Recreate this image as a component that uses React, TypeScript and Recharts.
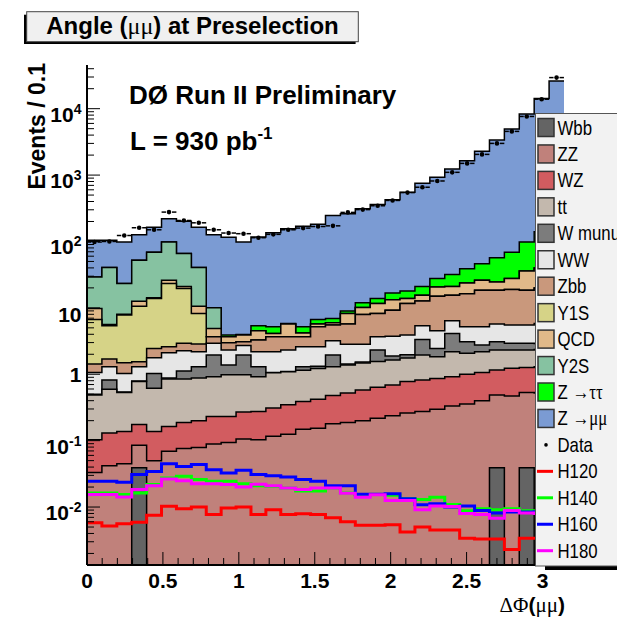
import React from 'react';
import { ComposedChart, Area, Line, Scatter, XAxis, YAxis } from 'recharts';

// ---------- binning / ranges ----------
const BIN_COUNT = 32;
const X_MAX = Math.PI;
const BIN_WIDTH = X_MAX / BIN_COUNT;
const Y_MIN = 0.00134;
const Y_MAX = 45500;
const FLOOR = 1e-6;

// ---------- stacked backgrounds (events per bin), bottom of stack first ----------
const wbb = [0, 0, 0, 0.039, 0, 0, 0, 0, 0, 0, 0, 0, 0, 0, 0, 0, 0, 0, 0, 0, 0, 0, 0, 0, 0, 0, 0, 0.039, 0, 0.039, 0, 0];
const zz = [0.033, 0.042, 0.045, 0.046, 0.05, 0.069, 0.076, 0.079, 0.089, 0.094, 0.106, 0.103, 0.116, 0.125, 0.149, 0.154, 0.18, 0.188, 0.2, 0.218, 0.237, 0.26, 0.275, 0.296, 0.334, 0.358, 0.4, 0.45, 0.47, 0.49, 0.52, 0.56];
const wz = [0.07, 0.088, 0.092, 0.09, 0.087, 0.094, 0.112, 0.121, 0.142, 0.137, 0.164, 0.172, 0.194, 0.221, 0.239, 0.266, 0.297, 0.332, 0.38, 0.422, 0.453, 0.515, 0.545, 0.564, 0.586, 0.642, 0.66, 0.67, 0.76, 0.73, 0.78, 0.82];
const ttbar = [0.386, 0.465, 0.393, 0.6, 0.48, 0.687, 0.662, 0.68, 0.689, 0.749, 0.71, 0.645, 0.74, 0.744, 0.762, 0.8, 0.823, 0.86, 0.9, 0.91, 0.95, 0.985, 1.13, 0.98, 1.26, 1.07, 1.12, 1.16, 1.09, 1.06, 1.05, 1.07];
const wmunu = [0.01, 0.225, 0.01, 0.02, 0.413, 0.03, 0.27, 0.42, 1.03, 0.4, 0.97, 0.38, 0.01, 0.01, 0.15, 0.1, 0.65, 0.05, 0.05, 0.77, 0.25, 0.2, 1.4, 0.61, 1.94, 1.02, 0.57, 0.77, 0.6, 0.6, 0.55, 0.5];
const ww = [0.56, 0.48, 0.49, 0.5, 0.75, 1.23, 1.14, 0.88, 0.97, 0.94, 0.75, 0.88, 1.12, 1.22, 1.3, 1.28, 1.24, 1.39, 1.29, 1.35, 1.86, 1.94, 2.02, 2.07, 2.28, 2.09, 2.43, 2.61, 2.58, 2.58, 2.9, 3.05];
const zbb = [0.37, 0.4, 0.46, 0.25, 0.67, 0.49, 0.66, 0.67, 0.75, 0.66, 0.4, 1.09, 1.49, 1.35, 1.07, 2.58, 2.31, 2.88, 5.14, 4.53, 5.45, 7.7, 7.33, 10.48, 9.1, 11.2, 13.2, 12.7, 13.4, 12.9, 14.2, 15];
const y1s = [5.27, 3.7, 6.29, 9.05, 11.35, 20.6, 16.6, 5.35, 0, 0, 0, 0, 0, 0, 0, 0, 0, 0, 0, 0, 0, 0, 0, 0, 0, 0, 0, 0, 0, 0, 0, 0];
const qcd = [3.1, 0.2, 0.22, 2.0, 0.4, 2.8, 1.5, 2.4, 1.23, 0.69, 0.8, 1.25, 0.45, 2.03, 0.53, 0.52, 0.45, 2.5, 2.14, 3.4, 4.1, 2.2, 2.8, 5.7, 5.5, 7.3, 7.6, 6.2, 8.7, 17.6, 20, 24];
const y2s = [19.4, 34.9, 15.2, 39.4, 54.8, 72, 44.6, 29.9, 5.1, 0, 0, 0, 0, 0, 0, 0, 0, 0, 0, 0, 0, 0, 0, 0, 0, 0, 0, 0, 0, 0, 0, 0];
const ztautau = [0, 0, 0, 0, 0, 0, 0, 0, 0, 0.23, 0.08, 0.85, 1.06, 0.13, 0.98, 1.0, 0.95, 0.8, 1.8, 2.2, 3.5, 4.2, 5.5, 6.9, 10.7, 15.3, 20.4, 32.4, 41.4, 62, 100, 145];
const zmumu = [74.8, 63.5, 74.8, 74, 95, 122, 136, 123, 116, 112, 94, 111, 130, 150, 165, 175, 240, 252, 299, 346, 407, 534, 732, 899, 1208, 1611, 2234, 3313, 4881, 8202, 14060, 26010];

// ---------- data ----------
const dataCounts = [98, 100, 123, 161, 150, 277, 207, 191, 150, 134, 131, 114, 128, 150, 159, 168, 172, 274, 302, 345, 415, 545, 656, 815, 1100, 1500, 2050, 3000, 4550, 7640, 13900, 29400];

// ---------- Higgs signals ----------
const h120 = [0.0058, 0.0052, 0.0056, 0.0059, 0.0075, 0.0103, 0.0094, 0.01, 0.0077, 0.0097, 0.01, 0.0077, 0.0091, 0.0077, 0.0079, 0.0077, 0.0069, 0.006, 0.0053, 0.0053, 0.0054, 0.0042, 0.005, 0.0045, 0.0045, 0.0034, 0.0033, 0.0033, 0.0023, 0.0034, 0.0034, 0.0034];
const h140 = [0.0163, 0.0163, 0.0154, 0.0163, 0.0218, 0.0274, 0.029, 0.026, 0.0244, 0.0244, 0.0225, 0.021, 0.0205, 0.0194, 0.0174, 0.0174, 0.0194, 0.0163, 0.015, 0.0155, 0.015, 0.0134, 0.013, 0.014, 0.0109, 0.0088, 0.0094, 0.0091, 0.0094, 0.0088, 0.0088, 0.009];
const h160 = [0.0244, 0.0244, 0.0236, 0.0309, 0.0343, 0.0449, 0.0409, 0.0436, 0.0366, 0.0326, 0.0357, 0.0309, 0.0297, 0.0283, 0.026, 0.0244, 0.021, 0.021, 0.0156, 0.0156, 0.0158, 0.0133, 0.0108, 0.0112, 0.01, 0.0104, 0.0089, 0.0081, 0.0084, 0.0084, 0.0085, 0.0086];
const h180 = [0.0154, 0.0154, 0.0142, 0.0184, 0.021, 0.0264, 0.0249, 0.0225, 0.0225, 0.0218, 0.02, 0.0221, 0.021, 0.0194, 0.0184, 0.0193, 0.0193, 0.0162, 0.0141, 0.0153, 0.0126, 0.0126, 0.0091, 0.0104, 0.0102, 0.008, 0.0077, 0.0068, 0.0089, 0.0081, 0.008, 0.008];

// ---------- axis ticks ----------
const X_MAJOR = [0, 0.5, 1, 1.5, 2, 2.5, 3];
const X_LABELS = ['0', '0.5', '1', '1.5', '2', '2.5', '3'];
const Y_MAJOR = [0.01, 0.1, 1, 10, 100, 1000, 10000];
const Y_LABELS: [string, string][] = [['10', '-2'], ['10', '-1'], ['1', ''], ['10', ''], ['10', '2'], ['10', '3'], ['10', '4']];

const X_TICKS = Array.from({ length: 32 }, (_, i) => i / 10);
const Y_TICKS: number[] = [];
for (let k = -3; k <= 4; k++) {
  for (let m = 1; m <= 9; m++) {
    const v = parseFloat((m * Math.pow(10, k)).toPrecision(6));
    if (v >= Y_MIN && v <= Y_MAX) Y_TICKS.push(v);
  }
}

const STACK = [
  { key: 'wbb', label: 'Wbb', color: '#646464', values: wbb },
  { key: 'zz', label: 'ZZ', color: '#c0817b', values: zz },
  { key: 'wz', label: 'WZ', color: '#d25c60', values: wz },
  { key: 'tt', label: 'tt', color: '#c3b8ad', values: ttbar },
  { key: 'wmunu', label: 'W munu', color: '#7c7c7c', values: wmunu },
  { key: 'ww', label: 'WW', color: '#e6e6e6', values: ww },
  { key: 'zbb', label: 'Zbb', color: '#c9987c', values: zbb },
  { key: 'y1s', label: 'Y1S', color: '#d6d387', values: y1s },
  { key: 'qcd', label: 'QCD', color: '#e1b989', values: qcd },
  { key: 'y2s', label: 'Y2S', color: '#86c2a1', values: y2s },
  { key: 'ztt', label: 'Z \u2192\u03c4\u03c4', color: '#00ff00', values: ztautau },
  { key: 'zmm', label: 'Z \u2192\u03bc\u03bc', color: '#7b9bd3', values: zmumu },
];

const HIGGS = [
  { key: 'h120', label: 'H120', color: '#ff0000', values: h120 },
  { key: 'h140', label: 'H140', color: '#00ff00', values: h140 },
  { key: 'h160', label: 'H160', color: '#0000ff', values: h160 },
  { key: 'h180', label: 'H180', color: '#ff00ff', values: h180 },
];

const rows = Array.from({ length: BIN_COUNT + 1 }, (_, i) => {
  const b = Math.min(i, BIN_COUNT - 1);
  const row: Record<string, number> = { x: i * BIN_WIDTH };
  let sum = 0;
  STACK.forEach((s) => {
    sum += s.values[b];
    row[s.key] = sum > 0 ? sum : FLOOR;
  });
  HIGGS.forEach((h) => {
    row[h.key] = h.values[b];
  });
  return row;
});

const points = dataCounts.map((v, i) => ({ x: (i + 0.5) * BIN_WIDTH, y: v }));

const SANS = "'Liberation Sans', Arial, Helvetica, sans-serif";
const SERIF = "'Liberation Serif', 'Times New Roman', serif";

const XTick = (props: any) => {
  const { x, y, payload } = props;
  const v = payload.value as number;
  const idx = X_MAJOR.findIndex((m) => Math.abs(m - v) < 1e-6);
  const major = idx >= 0;
  return (
    <g>
      <line x1={x} x2={x} y1={y} y2={y - (major ? 13 : 7)} stroke="#000" strokeWidth={1} />
      {major && (
        <text x={x} y={y + 23} textAnchor="middle" fontSize={21} fontWeight="bold" fontFamily={SANS} fill="#000">
          {X_LABELS[idx]}
        </text>
      )}
    </g>
  );
};

const YTick = (props: any) => {
  const { x, y, payload } = props;
  const v = payload.value as number;
  const idx = Y_MAJOR.findIndex((m) => Math.abs(Math.log10(m) - Math.log10(v)) < 1e-6);
  const major = idx >= 0;
  let label = null;
  if (major) {
    const [base, exp] = Y_LABELS[idx];
    const baseY = exp ? y + 13 : base === '10' ? y + 14 : y + 8;
    label = (
      <text x={81.5} y={baseY} textAnchor="end" fontSize={21} fontWeight="bold" fontFamily={SANS} fill="#000">
        {base}
        {exp && (
          <tspan dy={-8} fontSize={14}>
            {exp}
          </tspan>
        )}
      </text>
    );
  }
  return (
    <g>
      <line x1={x} x2={x + (major ? 13 : 7)} y1={y} y2={y} stroke="#000" strokeWidth={1} />
      {label}
    </g>
  );
};

const DataMarker = (props: any) => {
  const { cx, cy } = props;
  if (cx == null || cy == null) return <g />;
  return (
    <g>
      <line x1={cx - 7.4} x2={cx - 3} y1={cy} y2={cy} stroke="#000" strokeWidth={1.5} />
      <line x1={cx + 3} x2={cx + 7.4} y1={cy} y2={cy} stroke="#000" strokeWidth={1.5} />
      <circle cx={cx} cy={cy} r={2.3} fill="#000" />
    </g>
  );
};

const LEG_TOP = 127.5;
const LEG_STEP = 26.45;

const LegendLabel = ({ cy, text }: { cy: number; text: string }) => {
  const arrowIdx = text.indexOf('\u2192');
  return (
    <text transform={`translate(557.5, ${cy + 7}) scale(0.84, 1)`} fontSize={20} fontFamily={SANS} fill="#000">
      {arrowIdx >= 0 ? (
        <>
          {text.slice(0, arrowIdx)}
          <tspan fontFamily={SERIF}>{text.slice(arrowIdx)}</tspan>
        </>
      ) : (
        text
      )}
    </text>
  );
};

const Overlay = () => (
  <svg width={617} height={619} style={{ position: 'absolute', left: 0, top: 0, pointerEvents: 'none' }}>
    {/* title box */}
    <rect x={24} y={14.7} width={331.6} height={29.3} fill="#000" />
    <rect x={26.7} y={11.7} width={331.6} height={30} fill="#f0f0f0" stroke="#444" strokeWidth={1} />
    <text x={192.5} y={34} textAnchor="middle" fontSize={24} fontWeight="bold" fontFamily={SANS} fill="#000">
      Angle (<tspan fontFamily={SERIF} fontWeight="normal">{'\u03bc\u03bc'}</tspan>) at Preselection
    </text>

    {/* experiment labels */}
    <text x={129} y={104} fontSize={26} fontWeight="bold" fontFamily={SANS} fill="#000">
      D{'\u00d8'} Run II Preliminary
    </text>
    <text x={130} y={150} fontSize={26} fontWeight="bold" fontFamily={SANS} fill="#000">
      L = 930 pb
      <tspan dy={-11} fontSize={17}>
        -1
      </tspan>
    </text>

    {/* axis titles */}
    <text transform="translate(45, 63) rotate(-90)" textAnchor="end" fontSize={23} fontWeight="bold" fontFamily={SANS} fill="#000">
      Events / 0.1
    </text>
    <text x={565} y={612} textAnchor="end" fontSize={21} fontFamily={SERIF} fill="#000">
      {'\u0394\u03a6'}
      <tspan fontFamily={SANS} fontWeight="bold">(</tspan>
      {'\u03bc\u03bc'}
      <tspan fontFamily={SANS} fontWeight="bold">)</tspan>
    </text>

    {/* legend */}
    <rect x={545} y={118} width={100} height={452} fill="#000" />
    <rect x={535.5} y={113.5} width={100} height={452.5} fill="#f2f2f2" stroke="#555" strokeWidth={1} />
    {STACK.map((s, k) => {
      const cy = LEG_TOP + k * LEG_STEP;
      return (
        <g key={s.key}>
          <rect x={538} y={cy - 9} width={16} height={18} fill={s.color} stroke="#333" strokeWidth={1.5} />
          <LegendLabel cy={cy} text={s.label} />
        </g>
      );
    })}
    {(() => {
      const cy = LEG_TOP + STACK.length * LEG_STEP;
      return (
        <g>
          <circle cx={546} cy={cy} r={1.8} fill="#000" />
          <LegendLabel cy={cy} text="Data" />
        </g>
      );
    })()}
    {HIGGS.map((h, k) => {
      const cy = LEG_TOP + (STACK.length + 1 + k) * LEG_STEP;
      return (
        <g key={h.key}>
          <line x1={537} x2={553} y1={cy} y2={cy} stroke={h.color} strokeWidth={3} />
          <LegendLabel cy={cy} text={h.label} />
        </g>
      );
    })}
  </svg>
);

export default function App() {
  const reversed = [...STACK].reverse();
  return (
    <div style={{ position: 'absolute', left: 0, top: 0, width: 617, height: 619, overflow: 'hidden', background: '#fff' }}>
      <ComposedChart width={617} height={619} data={rows} margin={{ top: 65, right: 53, bottom: 0, left: 0 }}>
        {reversed.map((s) => (
          <Area
            key={s.key}
            type="stepAfter"
            dataKey={s.key}
            fill={s.color}
            fillOpacity={1}
            stroke="#000"
            strokeWidth={1.5}
            baseValue={Y_MIN}
            isAnimationActive={false}
            dot={false}
            activeDot={false}
          />
        ))}
        {HIGGS.map((h) => (
          <Line
            key={h.key}
            type="stepAfter"
            dataKey={h.key}
            stroke={h.color}
            strokeWidth={3}
            dot={false}
            activeDot={false}
            isAnimationActive={false}
          />
        ))}
        <Scatter data={points} dataKey="y" shape={DataMarker} isAnimationActive={false} />
        <XAxis
          dataKey="x"
          type="number"
          domain={[0, X_MAX]}
          ticks={X_TICKS}
          interval={0}
          height={54}
          tickSize={0}
          tickMargin={0}
          tickLine={false}
          axisLine={{ stroke: '#000', strokeWidth: 2 }}
          tick={XTick}
          allowDataOverflow
        />
        <XAxis
          xAxisId="top"
          orientation="top"
          dataKey="x"
          type="number"
          domain={[0, X_MAX]}
          height={0}
          tick={false}
          tickLine={false}
          axisLine={{ stroke: '#000', strokeWidth: 1 }}
        />
        <YAxis
          scale="log"
          type="number"
          domain={[Y_MIN, Y_MAX]}
          allowDataOverflow
          ticks={Y_TICKS}
          interval={0}
          width={87}
          tickSize={0}
          tickMargin={0}
          tickLine={false}
          axisLine={{ stroke: '#000', strokeWidth: 2 }}
          tick={YTick}
        />
        <YAxis
          yAxisId="right"
          orientation="right"
          width={0}
          domain={[0, 1]}
          tick={false}
          tickLine={false}
          axisLine={{ stroke: '#000', strokeWidth: 1 }}
        />
      </ComposedChart>
      <Overlay />
    </div>
  );
}
